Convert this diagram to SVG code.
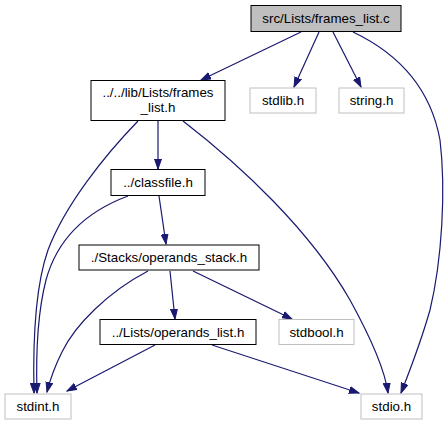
<svg xmlns="http://www.w3.org/2000/svg" width="448" height="425" viewBox="0 0 448 425">
<defs>
<marker id="arr" markerUnits="userSpaceOnUse" markerWidth="11" markerHeight="8" refX="10" refY="4" orient="auto">
<path d="M0,0.5 L10,4 L0,7.5 z" fill="#191970" stroke="#191970" stroke-width="1"/>
</marker>
<style>
.n rect{fill:#ffffff;stroke:#000000;stroke-width:1}
.g rect{fill:#ffffff;stroke:#bfbfbf;stroke-width:1}
.top rect{fill:#bfbfbf;stroke:#000000;stroke-width:1}
text{font-family:"Liberation Sans",Arial,sans-serif;font-size:13.33px;text-anchor:middle;fill:#000000}
.e path{fill:none;stroke:#191970;stroke-width:1.2;marker-end:url(#arr)}
</style>
</defs>
<rect width="448" height="425" fill="#ffffff"/>
<g class="e" id="edges">
<path d="M301,32 L201,80"/>
<path d="M319,32 L294,87"/>
<path d="M333,32 L361,87"/>
<path d="M353,32 C395,52 430,85 440,140 C446,190 442,260 430,310 C420,345 410,370 401,393"/>
<path d="M138,121 C105,155 65,205 48,250 C34,290 33,350 34,393"/>
<path d="M158,121 L158,169"/>
<path d="M183,121 C240,165 310,230 350,300 C372,340 385,370 388,393"/>
<path d="M128,196 C85,212 57,240 46,280 C37,315 36,360 37,393"/>
<path d="M159,196 L166,244"/>
<path d="M148,271 C108,292 75,325 62,352 C54,368 50,380 47,392"/>
<path d="M170,271 L175,319"/>
<path d="M193,271 L292,319"/>
<path d="M155,345 L67,391"/>
<path d="M212,345 L359,393"/>
</g>
<g id="node_top" class="top"><rect x="251" y="5.5" width="150" height="26"/><text x="326" y="23">src/Lists/frames_list.c</text></g>
<g id="node_frames_list_h" class="n"><rect x="91" y="80.5" width="134" height="40"/><text x="158" y="97">../../lib/Lists/frames</text><text x="158" y="112">_list.h</text></g>
<g id="node_stdlib" class="g"><rect x="250" y="88" width="66" height="25"/><text x="283" y="105">stdlib.h</text></g>
<g id="node_string" class="g"><rect x="339" y="88" width="65" height="25"/><text x="371.5" y="105">string.h</text></g>
<g id="node_classfile" class="n"><rect x="111" y="169.5" width="94" height="26"/><text x="158" y="187">../classfile.h</text></g>
<g id="node_operands_stack" class="n"><rect x="79" y="245" width="180" height="25"/><text x="169" y="262">./Stacks/operands_stack.h</text></g>
<g id="node_operands_list" class="n"><rect x="100" y="319.5" width="156" height="25"/><text x="178" y="336.5">../Lists/operands_list.h</text></g>
<g id="node_stdbool" class="g"><rect x="279" y="319.5" width="75" height="25"/><text x="316.5" y="336.5">stdbool.h</text></g>
<g id="node_stdint" class="g"><rect x="5" y="394" width="66" height="25"/><text x="38" y="411">stdint.h</text></g>
<g id="node_stdio" class="g"><rect x="361" y="394" width="61" height="25"/><text x="391.5" y="411">stdio.h</text></g>
</svg>
